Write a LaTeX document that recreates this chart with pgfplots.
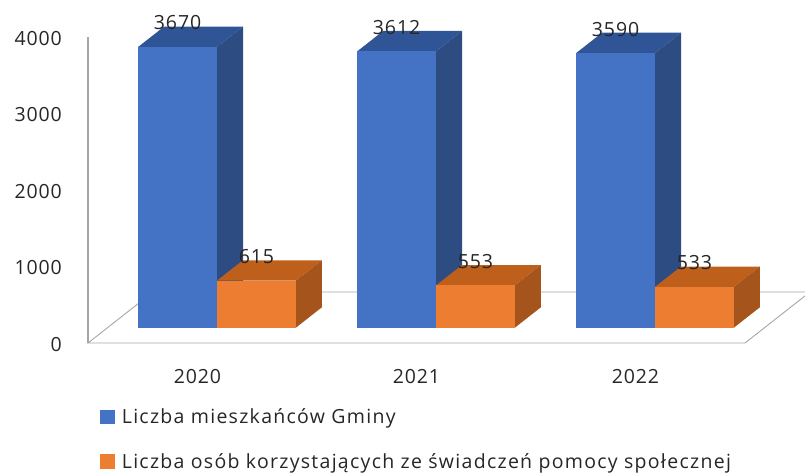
\documentclass[border=0pt]{standalone}
\usepackage{fontspec}
\setmainfont{Open Sans}
\newfontfamily\tickfont[LetterSpace=4.5]{Open Sans}
\newfontfamily\legfont[LetterSpace=6.6]{Open Sans}
\usepackage{pgfplots}
\pgfplotsset{compat=1.18}
\definecolor{blueF}{RGB}{68,114,196}
\definecolor{blueT}{RGB}{47,85,151}
\definecolor{blueS}{RGB}{44,76,130}
\definecolor{orangeF}{RGB}{237,125,49}
\definecolor{orangeT}{RGB}{190,96,28}
\definecolor{orangeS}{RGB}{165,84,28}
\definecolor{axisgray}{RGB}{166,166,166}
% one 3D bar: x from, x to, value, front, top, side colours
\newcommand{\threedbar}[6]{%
  \addplot3[fill=#5,draw=none,forget plot] coordinates {(#1,0.3,#3) (#2,0.3,#3) (#2,0.7,#3) (#1,0.7,#3)} -- cycle;
  \addplot3[fill=#6,draw=none,forget plot] coordinates {(#2,0.3,0) (#2,0.7,0) (#2,0.7,#3) (#2,0.3,#3)} -- cycle;
  \addplot3[fill=#4,draw=none,forget plot] coordinates {(#1,0.3,0) (#2,0.3,0) (#2,0.3,#3) (#1,0.3,#3)} -- cycle;
}
\begin{document}
\begin{tikzpicture}
\path[use as bounding box,clip] (-88pt,-129pt) rectangle (717pt,343pt);
\begin{axis}[
    at={(0pt,0pt)},anchor=origin,
    x={(219pt,0pt)},y={(65pt,51pt)},z={(0pt,0.0765pt)},
    xmin=0,xmax=3,ymin=0,ymax=1,zmin=0,zmax=4000,
    clip=false,
    axis line style={draw=none},
    tick style={draw=none},
    grid=none,
    xtick={0.5,1.5,2.5},
    xticklabels={2020,2021,2022},
    ytick=\empty,
    ztick={0,1000,2000,3000,4000},
    /pgf/number format/1000 sep={},
    /pgf/number format/assume math mode=true,
    tick label style={font=\tickfont\fontsize{19.5}{23}\selectfont,text=black!85,inner sep=0pt},
    xticklabel style={anchor=center,yshift=-34pt},
    zticklabel style={anchor=east,xshift=-26pt,yshift=-1.5pt},
    legend style={at={(axis description cs:0.02,-0.12)},anchor=north west,xshift=-3pt,yshift=-21pt,draw=none,fill=none,
      font=\legfont\fontsize{19.5}{23}\selectfont,row sep=24pt,inner sep=0pt,legend cell align=left,text=black!85},
    legend image code/.code={\fill[#1,draw=none] (0pt,-7pt) rectangle (15pt,7.5pt);\path (20pt,0pt);},
  ]
  \addlegendimage{fill=blueF}
  \addlegendentry{Liczba mieszkańców Gminy}
  \addlegendimage{fill=orangeF}
  \addlegendentry{Liczba osób korzystających ze świadczeń pomocy społecznej}
  % floor and wall
  \addplot3[axisgray,line width=0.9pt,forget plot] coordinates {(0,1,0) (0,0,0) (3,0,0) (3,1,0) (0,1,0)};
  \addplot3[axisgray,line width=1.2pt,forget plot] coordinates {(0,0,0) (0,0,4000)};
  % bars
  \threedbar{0.14}{0.5}{3670}{blueF}{blueT}{blueS}
  \threedbar{0.5}{0.86}{615}{orangeF}{orangeT}{orangeS}
  \threedbar{1.14}{1.5}{3612}{blueF}{blueT}{blueS}
  \threedbar{1.5}{1.86}{553}{orangeF}{orangeT}{orangeS}
  \threedbar{2.14}{2.5}{3590}{blueF}{blueT}{blueS}
  \threedbar{2.5}{2.86}{533}{orangeF}{orangeT}{orangeS}
  % value labels
  \addplot3[draw=none,mark=none,forget plot,nodes near coords,point meta=z,
    every node near coord/.append style={anchor=center,yshift=24pt,
      font=\tickfont\fontsize{19.5}{23}\selectfont,text=black!85,
      /pgf/number format/1000 sep={},/pgf/number format/assume math mode=true}]
    coordinates {(0.32,0.3,3670) (1.32,0.3,3612) (2.32,0.3,3590) (0.68,0.3,615) (1.68,0.3,553) (2.68,0.3,533)};
\end{axis}
\end{tikzpicture}
\end{document}
